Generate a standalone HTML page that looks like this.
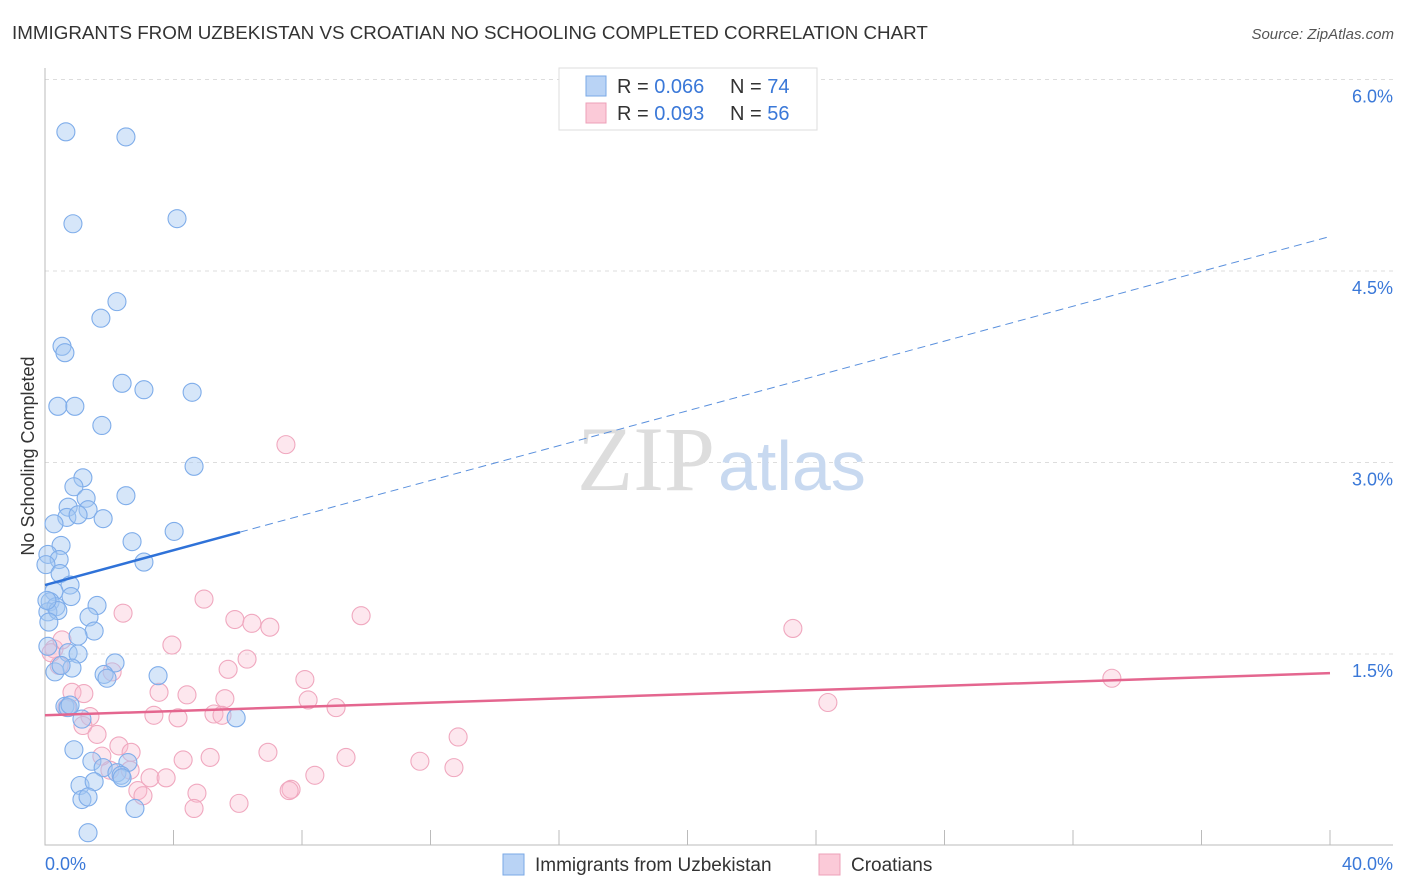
<!DOCTYPE html>
<html><head><meta charset="utf-8"><style>
body{margin:0;background:#fff;font-family:"Liberation Sans",sans-serif}
svg{display:block}
</style></head><body>
<svg id="chart" width="1406" height="892">
<text x="12" y="39" font-size="18.8" fill="#333">IMMIGRANTS FROM UZBEKISTAN VS CROATIAN NO SCHOOLING COMPLETED CORRELATION CHART</text>
<text x="1394" y="39" font-size="15" fill="#555" font-style="italic" text-anchor="end">Source: ZipAtlas.com</text>
<text x="34" y="456" font-size="18" fill="#333" text-anchor="middle" transform="rotate(-90 34 456)">No Schooling Completed</text>
<g id="grid"></g>
<text x="715" y="490" font-size="92" fill="#ddd" font-family="Liberation Serif" text-anchor="end">ZIP</text>
<text x="718" y="490" font-size="70" fill="#c8d9f0">atlas</text>
<g id="marks"></g>
<g>
<rect x="559" y="68" width="258" height="62" fill="#fff" stroke="#ddd"/>
<rect x="586" y="76" width="20" height="20" fill="#b9d3f5" stroke="#7aa8e6"/>
<rect x="586" y="103" width="20" height="20" fill="#fbcad8" stroke="#eea0b8"/>
<text x="617" y="93" font-size="20" fill="#333">R = <tspan fill="#3a78d8">0.066</tspan></text>
<text x="730" y="93" font-size="20" fill="#333">N = <tspan fill="#3a78d8">74</tspan></text>
<text x="617" y="120" font-size="20" fill="#333">R = <tspan fill="#3a78d8">0.093</tspan></text>
<text x="730" y="120" font-size="20" fill="#333">N = <tspan fill="#3a78d8">56</tspan></text>
</g>
<g>
<rect x="503" y="854" width="21" height="21" fill="#b9d3f5" stroke="#7aa8e6"/>
<text x="535" y="871" font-size="19" fill="#333">Immigrants from Uzbekistan</text>
<rect x="819" y="854" width="21" height="21" fill="#fbcad8" stroke="#eea0b8"/>
<text x="851" y="871" font-size="19" fill="#333">Croatians</text>
</g>
</svg>
<script>
const blueX=[0.65,2.52,0.87,4.11,2.24,1.74,0.53,0.62,2.40,3.08,4.58,0.40,0.93,1.77,4.64,1.18,0.90,1.28,2.52,0.72,1.34,0.68,1.03,1.81,0.28,4.02,2.71,0.50,0.09,0.44,3.08,0.03,0.47,0.78,0.28,0.81,0.16,1.62,0.34,0.09,0.40,1.37,0.12,1.53,1.03,0.09,0.72,1.03,2.18,0.84,1.84,3.52,1.93,0.31,0.62,0.72,1.15,5.95,0.90,1.46,1.81,2.58,2.24,2.37,2.40,1.09,1.53,1.15,1.34,2.80,1.34,0.78,0.50,0.06];
const blueY=[5.59,5.55,4.87,4.91,4.26,4.13,3.91,3.86,3.62,3.57,3.55,3.44,3.44,3.29,2.97,2.88,2.81,2.72,2.74,2.65,2.63,2.57,2.59,2.56,2.52,2.46,2.38,2.35,2.28,2.24,2.22,2.20,2.13,2.04,1.99,1.95,1.91,1.88,1.87,1.83,1.84,1.79,1.75,1.68,1.64,1.56,1.51,1.50,1.43,1.39,1.34,1.33,1.31,1.36,1.09,1.08,0.99,1.00,0.75,0.66,0.61,0.65,0.57,0.55,0.53,0.47,0.50,0.36,0.38,0.29,0.10,1.10,1.41,1.92];
const pinkX=[7.50,2.43,4.95,5.91,6.44,7.00,9.84,23.28,3.95,5.70,6.29,0.28,0.44,8.09,3.55,4.42,5.60,8.19,9.06,24.37,33.21,0.84,0.68,3.39,4.14,5.26,5.51,1.40,1.18,1.62,2.30,2.68,4.30,5.14,6.94,9.37,12.86,11.67,12.73,2.02,2.65,3.27,3.77,2.89,3.05,4.73,4.64,6.04,7.66,7.60,8.40,0.53,0.19,1.77,1.21,2.09];
const pinkY=[3.14,1.82,1.93,1.77,1.74,1.71,1.80,1.70,1.57,1.38,1.46,1.54,1.41,1.30,1.20,1.18,1.15,1.14,1.08,1.12,1.31,1.20,1.08,1.02,1.00,1.03,1.02,1.01,0.94,0.87,0.78,0.73,0.67,0.69,0.73,0.69,0.85,0.66,0.61,0.59,0.59,0.53,0.53,0.43,0.39,0.41,0.29,0.33,0.44,0.43,0.55,1.61,1.51,0.70,1.19,1.36];
const yTicks=[1.5,3.0,4.5,6.0];
const yTickLabels=["1.5%","3.0%","4.5%","6.0%"];
const xTicks=[0,4,8,12,16,20,24,28,32,36,40];
const blueTrend=[2.04,4.77];
const blueSolidEnd=6.07;
const pinkTrend=[1.02,1.35];

const X=v=>45+v*32.125, Y=v=>845.5-v*127.67;
const NS="http://www.w3.org/2000/svg";
const grid=document.getElementById('grid'), marks=document.getElementById('marks');
function mk(tag,attrs,parent){const e=document.createElementNS(NS,tag);for(const k in attrs)e.setAttribute(k,attrs[k]);parent.appendChild(e);return e;}
yTicks.forEach((t,i)=>{
  const l=mk('line',{x1:45,x2:1393,y1:Y(t),y2:Y(t),stroke:'#ddd','stroke-dasharray':'4,4'},grid);
  
  
  const tx=mk('text',{x:1393,y:Y(t)+23,'font-size':18,fill:'#3a78d8','text-anchor':'end'},grid);
  tx.textContent=yTickLabels[i];
  
  
});
const ax=mk('path',{d:'M45 68V845H1393',fill:'none',stroke:'#bbb'},grid);


xTicks.forEach(t=>{
  const l=mk('line',{x1:X(t),x2:X(t),y1:830,y2:845,stroke:'#bbb'},grid);
  
  
});
[[0,'0.0%','start',45],[40,'40.0%','end',1393]].forEach(a=>{
  const tx=mk('text',{x:a[3],y:870,'font-size':18,fill:'#3a78d8','text-anchor':a[2]},grid);
  tx.textContent=a[1];
  
  
});
pinkX.forEach((x,i)=>{
  const c=mk('circle',{cx:X(x),cy:Y(pinkY[i]),r:9,fill:'rgba(248,185,205,0.35)',stroke:'#f0a8bf','stroke-width':1.1},marks);
  
  
});
blueX.forEach((x,i)=>{
  const c=mk('circle',{cx:X(x),cy:Y(blueY[i]),r:9,fill:'rgba(165,200,242,0.45)',stroke:'#7fadea','stroke-width':1.1},marks);
  
  
});
const bAt=v=>blueTrend[0]+(blueTrend[1]-blueTrend[0])*v/40;
const l1=mk('line',{x1:X(0),y1:Y(bAt(0)),x2:X(blueSolidEnd),y2:Y(bAt(blueSolidEnd)),stroke:'#2f72d8','stroke-width':2.5},marks);


const l2=mk('line',{x1:X(blueSolidEnd),y1:Y(bAt(blueSolidEnd)),x2:X(40),y2:Y(bAt(40)),stroke:'#5a90dd','stroke-width':1,'stroke-dasharray':'8,5'},marks);


const l3=mk('line',{x1:X(0),y1:Y(pinkTrend[0]),x2:X(40),y2:Y(pinkTrend[1]),stroke:'#e4668f','stroke-width':2.5},marks);


</script>
</body></html>
